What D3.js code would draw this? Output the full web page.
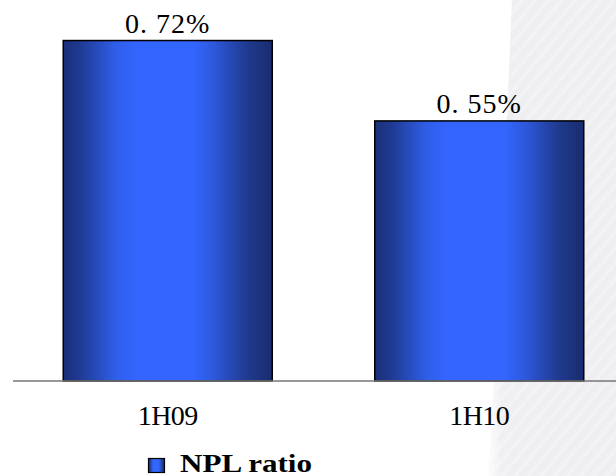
<!DOCTYPE html>
<html><head><meta charset="utf-8">
<script src="https://cdn.jsdelivr.net/npm/d3@7"></script>
<style>html,body{margin:0;padding:0;background:#fff;}svg{display:block;}</style>
</head><body>
<svg id="chart" width="616" height="476"></svg>
<script>
const categories = ["1H09", "1H10"];
const values = [0.72, 0.55];
const valueLabels = ["0. 72%", "0. 55%"];
const seriesName = "NPL ratio";

const svg = d3.select("#chart");
const defs = svg.append("defs");

// background texture (right side)
const pat = defs.append("pattern").attr("id","hatch").attr("patternUnits","userSpaceOnUse")
  .attr("width",10).attr("height",10).attr("patternTransform","rotate(40)");
pat.append("rect").attr("width",10).attr("height",10).attr("fill","#eeeef1");
pat.append("line").attr("x1",0).attr("y1",0).attr("x2",0).attr("y2",10).attr("stroke","#f9f9fb").attr("stroke-width",1.6);
pat.append("line").attr("x1",5).attr("y1",0).attr("x2",5).attr("y2",10).attr("stroke","#e6e6ea").attr("stroke-width",0.8);
const fade = defs.append("linearGradient").attr("id","fade").attr("x1","0").attr("x2","1").attr("y1","0").attr("y2","0");
fade.append("stop").attr("offset","0").attr("stop-color","#fff").attr("stop-opacity",0.85);
fade.append("stop").attr("offset","0.1").attr("stop-color","#fff").attr("stop-opacity",0.15);
fade.append("stop").attr("offset","1").attr("stop-color","#fff").attr("stop-opacity",0.1);
const bgPath = "M512,0 C506,150 498,300 489,476 L616,476 L616,0 Z";
svg.append("path").attr("d",bgPath).attr("fill","url(#hatch)");
svg.append("path").attr("d",bgPath).attr("fill","url(#fade)");

// bar gradient
const g = defs.append("linearGradient").attr("id","barGrad").attr("x1","0").attr("x2","1").attr("y1","0").attr("y2","0");
[[0,"#1b2f78"],[0.08,"#1f3a92"],[0.25,"#2f5ee8"],[0.35,"#3366ff"],[0.62,"#3366ff"],[0.72,"#2e58dc"],[0.88,"#1f3a8e"],[1,"#1a2c6e"]]
  .forEach(([o,c]) => g.append("stop").attr("offset",o).attr("stop-color",c));

const x = d3.scaleBand().domain(categories).range([12, 635]).paddingInner(0.329).paddingOuter(0.1645);
const y = d3.scaleLinear().domain([0, 0.8]).range([381, 2.7]);

// bars
svg.selectAll("rect.bar").data(values).enter().append("rect").attr("class","bar")
  .attr("x",(d,i)=>x(categories[i]))
  .attr("y",d=>y(d))
  .attr("width",x.bandwidth())
  .attr("height",d=>y(0)-y(d))
  .attr("fill","url(#barGrad)")
  .attr("stroke","#000").attr("stroke-width",1.5);

// axis baseline and category labels
const xAxis = d3.axisBottom(x).tickSize(0).tickPadding(0);
const ax = svg.append("g").attr("transform",`translate(0,${y(0)})`).call(xAxis);
ax.select(".domain").attr("d",`M13,0H616`).attr("stroke","#777").attr("stroke-width",1.5);
ax.selectAll(".tick text").attr("dy",null).attr("y",44)
  .attr("font-family","'Liberation Serif', 'Times New Roman', serif").attr("font-size",28)
  .attr("letter-spacing",-0.5).attr("fill","#000");

// value labels
svg.selectAll("text.val").data(values).enter().append("text").attr("class","val")
  .attr("x",(d,i)=>x(categories[i]) + x.bandwidth()/2)
  .attr("y",d=>y(d)-8)
  .attr("text-anchor","middle")
  .attr("font-family","'Liberation Serif', 'Times New Roman', serif")
  .attr("font-size",28).attr("letter-spacing",1)
  .text((d,i)=>valueLabels[i]);

// legend
const lg = svg.append("g");
lg.append("rect").attr("x",148.5).attr("y",458.5).attr("width",16).attr("height",14)
  .attr("fill","url(#barGrad)").attr("stroke","#000").attr("stroke-width",1.2);
lg.append("text").attr("x",180).attr("y",472)
  .attr("font-family","'Liberation Serif', 'Times New Roman', serif").attr("font-weight","bold")
  .attr("font-size",25).attr("textLength",132).attr("lengthAdjust","spacingAndGlyphs").text(seriesName);
</script>
</body></html>
